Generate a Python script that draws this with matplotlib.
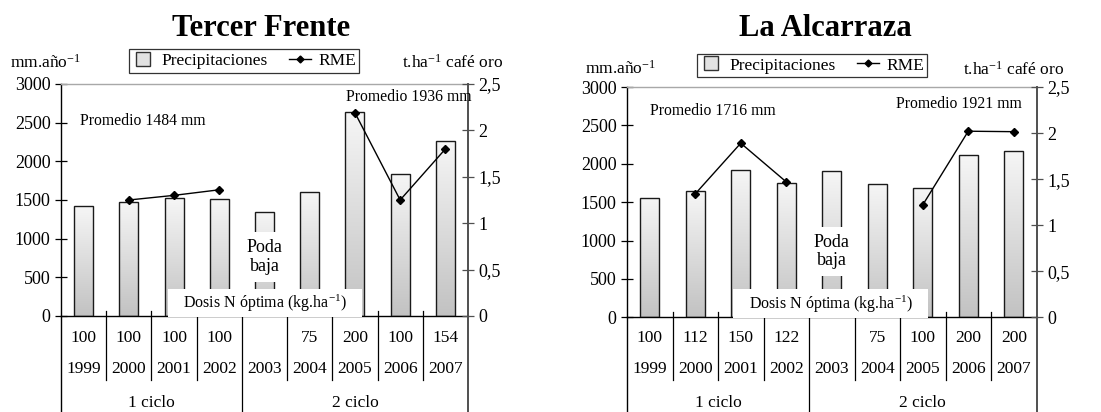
import numpy as np
import matplotlib
matplotlib.use("Agg")
import matplotlib.pyplot as plt
from matplotlib.transforms import blended_transform_factory
from matplotlib.colors import LinearSegmentedColormap
from matplotlib.lines import Line2D

plt.rcParams['font.family'] = ['Liberation Serif', 'DejaVu Serif']
plt.rcParams['mathtext.fontset'] = 'custom'
plt.rcParams['mathtext.rm'] = 'Liberation Serif'
plt.rcParams['mathtext.it'] = 'Liberation Serif:italic'
plt.rcParams['mathtext.bf'] = 'Liberation Serif:bold'

# ---------------- data ----------------
years = ['1999', '2000', '2001', '2002', '2003', '2004', '2005', '2006', '2007']
cycles = ['1 ciclo', '2 ciclo']
cycle_centers = [1.5, 6.0]

tf_title = 'Tercer Frente'
tf_precip = [1420, 1480, 1520, 1515, 1345, 1600, 2635, 1835, 2265]
tf_rme = [np.nan, 1.25, 1.30, 1.36, np.nan, np.nan, 2.19, 1.25, 1.80]
tf_dose = ['100', '100', '100', '100', '', '75', '200', '100', '154']
tf_prom = ['Promedio 1484 mm', 'Promedio 1936 mm']

la_title = 'La Alcarraza'
la_precip = [1560, 1640, 1920, 1750, 1900, 1740, 1690, 2110, 2160]
la_rme = [np.nan, 1.34, 1.89, 1.47, np.nan, np.nan, 1.22, 2.02, 2.015]
la_dose = ['100', '112', '150', '122', '', '75', '100', '200', '200']
la_prom = ['Promedio 1716 mm', 'Promedio 1921 mm']

left_ticks = [0, 500, 1000, 1500, 2000, 2500, 3000]
right_ticks = [0, 0.5, 1, 1.5, 2, 2.5]
right_labels = ['0', '0,5', '1', '1,5', '2', '2,5']

# ---------------- layout ----------------
W, H = 1101, 412
fig = plt.figure(figsize=(W / 100, H / 100), dpi=100)


def fy(px):
    return 1 - px / H


def fx(px):
    return px / W


cmap = LinearSegmentedColormap.from_list('g', ['#c2c2c2', '#f6f6f6'])
grad = np.linspace(0, 1, 256).reshape(-1, 1)
FS = 12.5


def panel(cfg, title, precip, rme, dose, prom):
    x0, x1, ytop, ybot = cfg['ax']
    ax = fig.add_axes([fx(x0), fy(ybot), (x1 - x0) / W, (ybot - ytop) / H])
    ax2 = ax.twinx()
    x = np.arange(len(years))
    bars = ax.bar(x, precip, width=0.42, facecolor='none', edgecolor='#1a1a1a',
                  linewidth=1.0, zorder=3)
    for b in bars:
        im = ax.imshow(grad, extent=[b.get_x(), b.get_x() + b.get_width(), 0, b.get_height()],
                       origin='lower', cmap=cmap, aspect='auto', zorder=2,
                       interpolation='bilinear')
        im.set_clip_path(b)
    ax.set_xlim(-0.5, len(years) - 0.5)
    ax.set_ylim(0, 3000)
    ax2.set_ylim(0, 2.5)
    ax2.plot(x, rme, color='k', lw=1.0, marker='D', ms=3.8, zorder=5)

    ax.set_xticks([])
    ax.set_yticks(left_ticks)
    ax.set_yticklabels([str(t) for t in left_ticks])
    ax.tick_params(axis='y', direction='inout', length=9, width=0.9, pad=3,
                   labelsize=13, colors='k')
    ax2.set_yticks(right_ticks)
    ax2.set_yticklabels(right_labels)
    ax2.tick_params(axis='y', direction='inout', length=9, width=0.9, pad=3,
                    labelsize=13, color='#505050', labelcolor='k')
    ax2.set_xticks([])

    ax.spines['right'].set_visible(False)
    ax.spines['top'].set_color('#a8a8a8')
    ax.spines['top'].set_linewidth(1.0)
    ax.spines['left'].set_linewidth(1.0)
    ax.spines['bottom'].set_linewidth(1.0)
    for s in ['left', 'top', 'bottom']:
        ax2.spines[s].set_visible(False)
    ax2.spines['right'].set_color('#505050')
    ax2.spines['right'].set_linewidth(1.4)

    tr = blended_transform_factory(ax.transData, fig.transFigure)
    tra = blended_transform_factory(ax.transAxes, fig.transFigure)
    ybase = ybot

    # separators below the axis
    n = len(years)
    for i in range(n - 1):
        b = i + 0.5
        yend = H if i == 3 else 380
        ax2.add_line(Line2D([b, b], [fy(ybase - 5), fy(yend)], transform=tr,
                            color='k', lw=0.9, clip_on=False, zorder=4))
    ax2.add_line(Line2D([-0.5, -0.5], [fy(ybase), fy(H)], transform=tr,
                        color='k', lw=1.0, clip_on=False, zorder=4))
    ax2.add_line(Line2D([n - 0.5, n - 0.5], [fy(ybase), fy(H)], transform=tr,
                        color='#505050', lw=1.4, clip_on=False, zorder=4))

    for i in range(n):
        ax2.text(i, fy(cfg['dose_y']), dose[i], transform=tr, ha='center', va='center',
                 fontsize=FS, clip_on=False)
        ax2.text(i, fy(cfg['year_y']), years[i], transform=tr, ha='center', va='center',
                 fontsize=FS, clip_on=False)
    for c, cx in zip(cycles, cycle_centers):
        ax2.text(cx, fy(cfg['cyc_y']), c, transform=tr, ha='center', va='center',
                 fontsize=FS, clip_on=False)

    # white box with dose caption
    bx0, bx1, by0, by1 = cfg['box']
    axw = x1 - x0
    rect = plt.Rectangle(((bx0 - x0) / axw, fy(by1)), (bx1 - bx0) / axw, (by1 - by0) / H,
                         transform=tra, facecolor='white', edgecolor='none',
                         clip_on=False, zorder=8)
    ax2.add_patch(rect)
    ax2.text(((bx0 + bx1) / 2 - x0) / axw, fy(cfg['box_text_y']),
             'Dosis N óptima (kg.ha$^{\\mathrm{-1}}$)', transform=tra,
             ha='center', va='center', fontsize=11.5, zorder=9, clip_on=False)

    # Poda baja
    ax2.text(4, fy(cfg['poda_y']), 'Poda\nbaja', transform=tr, ha='center', va='center',
             fontsize=13, linespacing=1.15, zorder=9,
             bbox=dict(facecolor='white', edgecolor='none', pad=5))

    # Promedio labels
    for (px, py), t in zip(cfg['prom'], prom):
        fig.text(fx(px), fy(py), t, ha='left', va='center', fontsize=11.3)

    # title and unit labels
    fig.text(fx(cfg['title'][0]), fy(cfg['title'][1]), title, ha='center', va='center',
             fontsize=22, fontweight='bold')
    fig.text(fx(cfg['lunit'][0]), fy(cfg['lunit'][1]), 'mm.año$^{\\mathrm{-1}}$',
             ha='left', va='center', fontsize=FS)
    fig.text(fx(cfg['runit'][0]), fy(cfg['runit'][1]), 't.ha$^{\\mathrm{-1}}$ café oro',
             ha=cfg['runit'][2], va='center', fontsize=FS)

    handles = [Line2D([], [], marker='s', ms=10, mfc='#e2e2e2', mec='#333333', ls='none'),
               Line2D([], [], color='k', lw=1.0, marker='D', ms=3.5)]
    leg = fig.legend(handles, ['Precipitaciones', 'RME'], loc='center',
                     bbox_to_anchor=(fx(cfg['leg'][0]), fy(cfg['leg'][1])),
                     bbox_transform=fig.transFigure, ncol=2, frameon=True,
                     fancybox=False, edgecolor='k', fontsize=12.5, handlelength=1.3,
                     handletextpad=0.4, columnspacing=1.2, borderpad=0.2,
                     borderaxespad=0)
    leg.get_frame().set_linewidth(0.9)


tf_cfg = dict(ax=(61, 468, 84, 316), dose_y=338, year_y=369, cyc_y=403,
              box=(168, 362, 289, 317), box_text_y=303, poda_y=257,
              prom=[(80, 121), (346, 97)], title=(261, 28), lunit=(10, 63),
              runit=(503, 63, 'right'), leg=(244, 61))
la_cfg = dict(ax=(627, 1036.5, 87, 317.3), dose_y=338, year_y=369, cyc_y=403,
              box=(733, 928, 289, 318), box_text_y=304, poda_y=251.5,
              prom=[(650, 111), (896, 104)], title=(825, 28), lunit=(585, 69),
              runit=(963, 70, 'left'), leg=(812, 65.5))

panel(tf_cfg, tf_title, tf_precip, tf_rme, tf_dose, tf_prom)
panel(la_cfg, la_title, la_precip, la_rme, la_dose, la_prom)

fig.savefig('out.png', dpi=100)
